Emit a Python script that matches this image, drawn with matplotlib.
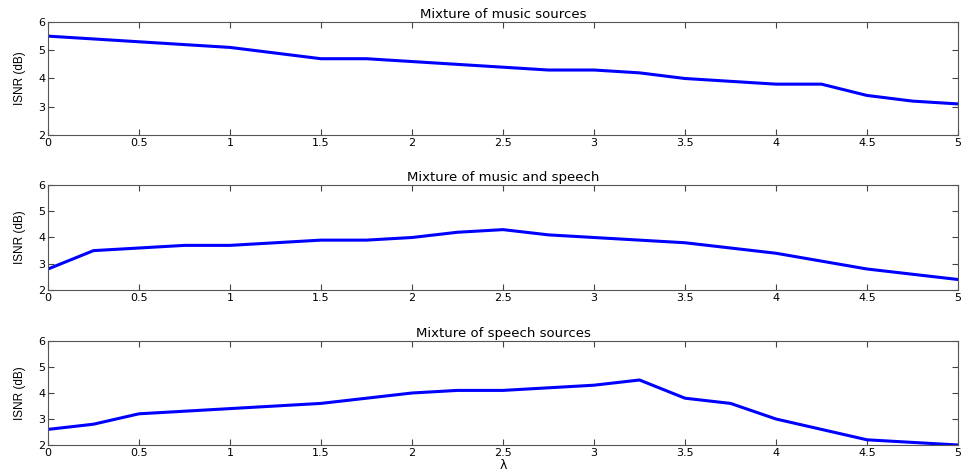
import numpy as np
import matplotlib.pyplot as plt

plt.rcParams['font.family'] = ['DejaVu Sans']

# regularization weight lambda
lam = np.arange(0, 5.01, 0.25)

# ISNR curves (dB)
isnr_music = [5.5, 5.4, 5.3, 5.2, 5.1, 4.9, 4.7, 4.7, 4.6, 4.5, 4.4,
              4.3, 4.3, 4.2, 4.0, 3.9, 3.8, 3.8, 3.4, 3.2, 3.1]
isnr_mixed = [2.8, 3.5, 3.6, 3.7, 3.7, 3.8, 3.9, 3.9, 4.0, 4.2, 4.3,
              4.1, 4.0, 3.9, 3.8, 3.6, 3.4, 3.1, 2.8, 2.6, 2.4]
isnr_speech = [2.6, 2.8, 3.2, 3.3, 3.4, 3.5, 3.6, 3.8, 4.0, 4.1, 4.1,
               4.2, 4.3, 4.5, 3.8, 3.6, 3.0, 2.6, 2.2, 2.1, 2.0]

titulos = ["Mixture of music sources",
           "Mixture of music and speech",
           "Mixture of speech sources"]
series = [isnr_music, isnr_mixed, isnr_speech]

W, H = 964, 471
fig = plt.figure(figsize=(W/100, H/100), dpi=100)

# axes boxes in pixels: (top, bottom)
cajas = [(22, 135), (185, 290), (341, 445)]
izq, der = 48, 958

for (top, bot), datos, titulo in zip(cajas, series, titulos):
    ax = fig.add_axes([izq/W, 1 - bot/H, (der - izq)/W, (bot - top)/H])
    ax.plot(lam, datos, color=(0, 0, 1), linewidth=2.2)
    ax.set_xlim(0, 5)
    ax.set_ylim(2, 6)
    ax.set_xticks(np.arange(0, 5.01, 0.5))
    ax.set_xticklabels(["0", "0.5", "1", "1.5", "2", "2.5",
                        "3", "3.5", "4", "4.5", "5"])
    ax.set_yticks([2, 3, 4, 5, 6])
    ax.tick_params(direction='in', top=True, right=True, labelsize=8,
                   length=4, width=0.8, color='#444444', pad=2)
    for s in ax.spines.values():
        s.set_color('#555555')
        s.set_linewidth(0.8)
    ax.set_title(titulo, fontsize=9.5, pad=3)
    ax.set_ylabel("ISNR (dB)", fontsize=8.5, labelpad=9,
                  family='Liberation Sans')

ax.set_xlabel("λ", fontsize=9, labelpad=1)

fig.savefig("out.png", dpi=100)
